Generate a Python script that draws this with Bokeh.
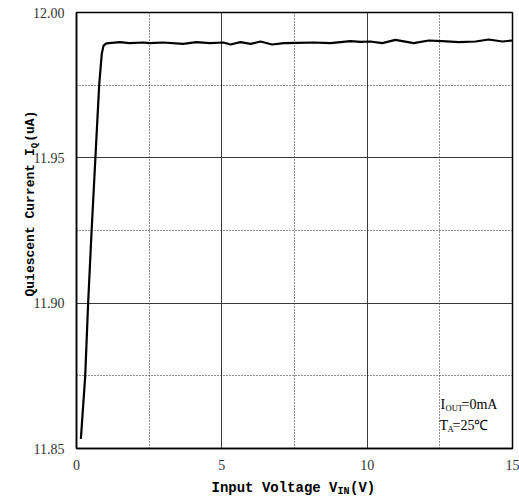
import math
from bokeh.plotting import figure
from bokeh.models import FixedTicker, PrintfTickFormatter, Label, Range1d
from bokeh.core.properties import value
from bokeh.embed import file_html
from bokeh.resources import INLINE

# ---- data ----
vin = [0.15, 0.30, 0.40, 0.52, 0.65, 0.78, 0.87, 0.93, 1.03, 1.49, 1.83, 2.29, 2.52,
       2.98, 3.67, 4.13, 4.59, 5.05, 5.30, 5.64, 5.99, 6.33, 6.73, 7.13, 7.59, 8.16,
       8.74, 9.43, 9.77, 10.11, 10.52, 10.97, 11.60, 12.12, 12.58, 13.15, 13.73,
       14.18, 14.65, 15.0]
iq = [11.8533, 11.875, 11.900, 11.925, 11.950, 11.975, 11.9858, 11.9886, 11.9894,
      11.98979, 11.98945, 11.98968, 11.98945, 11.98968, 11.98922, 11.98979, 11.98945,
      11.98968, 11.98899, 11.98979, 11.98922, 11.99002, 11.98899, 11.98945, 11.98956,
      11.98968, 11.98945, 11.99013, 11.98991, 11.99002, 11.98945, 11.99060, 11.98945,
      11.99036, 11.99013, 11.98979, 11.99002, 11.99071, 11.99002, 11.99036]

x_major = [0, 5, 10, 15]
x_minor = [2.5, 7.5, 12.5]
y_major = [11.85, 11.90, 11.95, 12.00]
y_minor = [11.875, 11.925, 11.975]

p = figure(width=519, height=499, output_backend="svg", toolbar_location=None,
           x_range=Range1d(0, 15), y_range=Range1d(11.85, 12.00),
           min_border_left=76, min_border_right=7, min_border_top=12, min_border_bottom=51)
p.background_fill_color = "white"
p.border_fill_color = "white"
p.outline_line_color = "black"
p.outline_line_width = 1.5

p.xaxis.ticker = FixedTicker(ticks=x_major, minor_ticks=x_minor)
p.yaxis.ticker = FixedTicker(ticks=y_major, minor_ticks=y_minor)
p.yaxis.formatter = PrintfTickFormatter(format="%.2f")
for ax in (p.xaxis, p.yaxis):
    ax.axis_line_color = "black"
    ax.axis_line_width = 1.5
    ax.major_tick_line_color = None
    ax.minor_tick_line_color = None
    ax.major_label_text_font = "Liberation Serif"
    ax.major_label_text_font_size = "14px"
    ax.major_label_text_color = "#333333"
p.xaxis.major_label_standoff = 5
p.yaxis.major_label_standoff = 6

for g in (p.xgrid, p.ygrid):
    g.grid_line_color = "#3a3a3a"
    g.grid_line_width = 1
    g.minor_grid_line_color = "#222222"
    g.minor_grid_line_width = 1
    g.minor_grid_line_dash = "1 2"

p.line(vin, iq, line_color="black", line_width=2.2)

mono = "Liberation Mono"
serif = "Liberation Serif"

def txt(x, y, text, dx, dy, font, size, bold=False, angle=0.0):
    # glyph text drawn at overlay level so it may sit outside the frame
    p.text(x=[x], y=[y], text=[text], x_offset=dx, y_offset=-dy,
           text_font=value(font), text_font_size=value(size),
           text_font_style="bold" if bold else "normal",
           text_baseline="alphabetic", text_align="left",
           angle=angle, text_color="black", level="overlay")

def lab(x, y, text, dx, dy, font, size, bold=False, angle=0.0):
    p.add_layout(Label(x=x, y=y, x_offset=dx, y_offset=dy, text=text,
                       text_font=font, text_font_size=size,
                       text_font_style="bold" if bold else "normal",
                       text_baseline="alphabetic", text_align="left",
                       angle=angle, text_color="black"))

# x axis label: Input Voltage V_IN(V)
txt(7.5, 11.85, "Input Voltage V", -83, -39, mono, "14px", True)
txt(7.5, 11.85, "IN", -83 + 126, -43, mono, "10px", True)
txt(7.5, 11.85, "(V)", -83 + 126 + 12.5, -39, mono, "14px", True)

# y axis label: Quiescent Current I_Q(uA)
a = math.pi / 2
txt(0, 11.85, "Quiescent Current I", -46, 152, mono, "13px", True, a)
txt(0, 11.85, "Q", -42, 152 + 148.2, mono, "9px", True, a)
txt(0, 11.85, "(uA)", -46, 152 + 148.2 + 6.5, mono, "13px", True, a)

# annotation
lab(15, 11.85, "I", -72, 44, serif, "14px")
lab(15, 11.85, "OUT", -67, 41, serif, "8.5px")
lab(15, 11.85, "=0mA", -51, 44, serif, "14px")
lab(15, 11.85, "T", -73, 23, serif, "14px")
lab(15, 11.85, "A", -65, 20, serif, "8.5px")
lab(15, 11.85, "=25\u2103", -60, 23, serif, "14px")

open("out.html", "w").write(file_html(p, INLINE))
